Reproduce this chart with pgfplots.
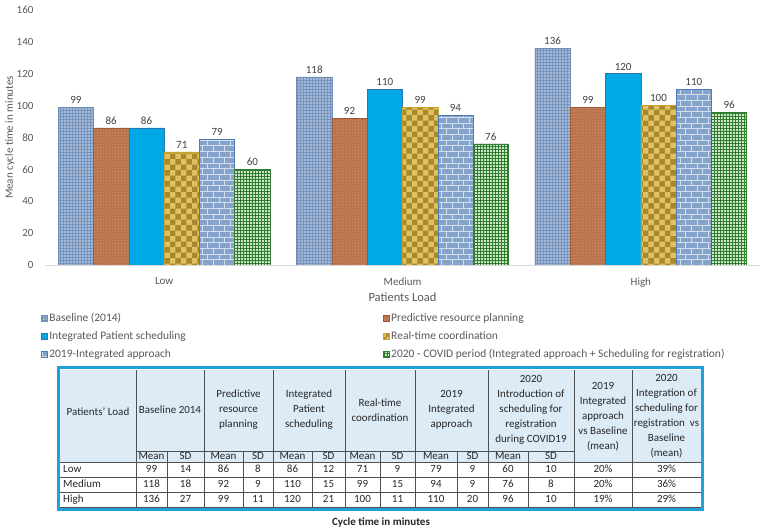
\documentclass[border=0pt]{standalone}
\usepackage{pgfplots}
\pgfplotsset{compat=1.18}
\usepackage{pgfplotstable}
\usepackage{fontspec}
\setmainfont{Carlito}
\usetikzlibrary{patterns}

\definecolor{txt}{HTML}{595959}
\definecolor{lbl}{HTML}{404040}
\definecolor{axgray}{HTML}{D9D9D9}
\definecolor{cBase}{HTML}{A3B9D7}
\definecolor{cBaseP}{HTML}{7893BC}
\definecolor{cBaseD}{HTML}{6F8DBA}
\definecolor{cPred}{HTML}{B8724B}
\definecolor{cPredP}{HTML}{D49A78}
\definecolor{cPredD}{HTML}{9A5A38}
\definecolor{cInt}{HTML}{00A9E6}
\definecolor{cIntD}{HTML}{2E75B6}
\definecolor{cRT}{HTML}{E0C060}
\definecolor{cRTP}{HTML}{A8882C}
\definecolor{cRTD}{HTML}{C9A227}
\definecolor{c19}{HTML}{86A3CC}
\definecolor{c19P}{HTML}{D3DEEE}
\definecolor{c19D}{HTML}{4F7BB5}
\definecolor{c20}{HTML}{CFE3C8}
\definecolor{c20P}{HTML}{2F7F2F}
\definecolor{c20D}{HTML}{2E7D32}
\definecolor{headfill}{HTML}{DDEBF7}
\definecolor{gridc}{HTML}{505050}
\definecolor{tblue}{HTML}{22A0DC}
\definecolor{tabtxt}{HTML}{262626}

\pgfplotstableread{
cat b p i r a c
0 99 86 86 71 79 60
1 118 92 110 99 94 76
2 136 99 120 100 110 96
}\loadtab

\begin{document}
\begin{tikzpicture}
\path[use as bounding box] (0,0) rectangle (762pt,-530pt);
\begin{axis}[
  at={(45pt,-265pt)}, anchor=south west,
  scale only axis, width=715pt, height=255pt,
  xmin=-0.5, xmax=2.5, ymin=0, ymax=160,
  ybar=0pt, bar width=35.3pt,
  axis line style={draw=none},
  tick style={draw=none},
  xtick={0,1,2}, xticklabels={Low,Medium,High},
  ytick={0,20,...,160},
  /pgf/number format/assume math mode=true,
  ticklabel style={font=\fontsize{11}{13}\selectfont, text=txt},
  xticklabel style={yshift=-5pt},
  yticklabel style={xshift=-8pt},
  xlabel={Patients Load},
  ylabel={Mean cycle time in minutes},
  every axis x label/.style={at={(axis description cs:0.5,-0.125)}, anchor=center, font=\fontsize{12.5}{14}\selectfont, text=txt},
  every axis y label/.style={at={(axis description cs:-0.049,0.5)}, anchor=center, rotate=90, font=\fontsize{11}{13}\selectfont, text=txt},
  nodes near coords,
  every node near coord/.append style={font=\fontsize{11}{13}\selectfont, text=lbl},
  legend columns=2,
  legend cell align=left,
  legend style={at={(axis description cs:-0.006,-0.18)}, anchor=north west, draw=none, fill=none,
    font=\fontsize{11.5}{13}\selectfont, text=txt, inner sep=0pt, row sep=3pt,
    nodes={text height=8.5pt, text depth=2.5pt},
    /tikz/every even column/.append style={column sep=195pt}},
  legend image code/.code={\draw[#1, line width=0.4pt] (0pt,-3pt) rectangle (6pt,3pt);},
]
\addplot[fill=cBase, draw=cBaseD, line width=0.6pt, postaction={pattern=grid, pattern color=cBaseP}] table[x=cat,y=b] {\loadtab};
\addlegendentry{Baseline (2014)}
\addplot[fill=cPred, draw=cPredD, line width=0.6pt, postaction={pattern=crosshatch dots, pattern color=cPredP}] table[x=cat,y=p] {\loadtab};
\addlegendentry{Predictive resource planning}
\addplot[fill=cInt, draw=cIntD, line width=0.6pt] table[x=cat,y=i] {\loadtab};
\addlegendentry{Integrated Patient scheduling}
\addplot[fill=cRT, draw=cRTD, line width=0.6pt, postaction={pattern=checkerboard, pattern color=cRTP}] table[x=cat,y=r] {\loadtab};
\addlegendentry{Real-time coordination}
\addplot[fill=c19, draw=c19D, line width=0.6pt, postaction={pattern=bricks, pattern color=c19P}] table[x=cat,y=a] {\loadtab};
\addlegendentry{2019-Integrated approach}
\addplot[fill=c20, draw=c20D, line width=0.6pt, postaction={pattern=grid, pattern color=c20P}] table[x=cat,y=c] {\loadtab};
\addlegendentry{2020 - COVID period (Integrated approach + Scheduling for registration)}
\draw[axgray, line width=0.8pt] (axis cs:-0.5,0) -- (axis cs:2.5,0);
\end{axis}

% ---------- table ----------
\tikzset{tt/.style={font=\fontsize{11}{15}\selectfont, align=center, inner sep=0pt, text=tabtxt},
         tc/.style={tt, text height=8pt, text depth=2.5pt},
         gl/.style={gridc, line width=0.6pt}}
\fill[headfill] (60pt,-370pt) rectangle (701pt,-462pt);
\draw[gl] (136pt,-451pt) -- (574pt,-451pt);
\foreach \yy in {462,477,492,507} \draw[gl] (60pt,-\yy pt) -- (701pt,-\yy pt);
\foreach \xx in {136,204,273,345,415,488,574,632} \draw[gl] (\xx pt,-370pt) -- (\xx pt,-507pt);
\foreach \xx in {167,243,312,380,457,528} \draw[gl] (\xx pt,-451pt) -- (\xx pt,-507pt);
\draw[tblue, line width=3pt] (58.5pt,-367.5pt) rectangle (702.5pt,-509.5pt);

\node[tt] at (98pt,-412pt) {Patients' Load};
\node[tt] at (170pt,-410pt) {Baseline 2014};
\node[tt] at (238.5pt,-410pt) {Predictive\\resource\\planning};
\node[tt] at (309pt,-410pt) {Integrated\\Patient\\scheduling};
\node[tt] at (380pt,-410.5pt) {Real-time\\coordination};
\node[tt] at (451.5pt,-410pt) {2019\\Integrated\\approach};
\node[tt] at (531pt,-410pt) {2020\\Introduction of\\scheduling for\\registration\\during COVID19};
\node[tt] at (603pt,-417pt) {2019\\Integrated\\approach\\vs Baseline\\(mean)};
\node[tt] at (666.5pt,-416.5pt) {2020\\Integration of\\scheduling for\\registration\ \ vs\\Baseline\\(mean)};

\foreach \xx in {151.5,223.5,292.5,362.5,436,508} \node[tc] at (\xx pt,-456.5pt) {Mean};
\foreach \xx in {185.5,258,328.5,397.5,472.5,551} \node[tc] at (\xx pt,-456.5pt) {SD};

\node[tc, anchor=west] at (63pt,-469.5pt) {Low};
\node[tc, anchor=west] at (63pt,-484.5pt) {Medium};
\node[tc, anchor=west] at (63pt,-499.5pt) {High};
\foreach \xx/\vv in {151.5/99,185.5/14,223.5/86,258/8,292.5/86,328.5/12,362.5/71,397.5/9,436/79,472.5/9,508/60,551/10,603/20\%,666.5/39\%}
  \node[tc] at (\xx pt,-469.5pt) {\vv};
\foreach \xx/\vv in {151.5/118,185.5/18,223.5/92,258/9,292.5/110,328.5/15,362.5/99,397.5/15,436/94,472.5/9,508/76,551/8,603/20\%,666.5/36\%}
  \node[tc] at (\xx pt,-484.5pt) {\vv};
\foreach \xx/\vv in {151.5/136,185.5/27,223.5/99,258/11,292.5/120,328.5/21,362.5/100,397.5/11,436/110,472.5/20,508/96,551/10,603/19\%,666.5/29\%}
  \node[tc] at (\xx pt,-499.5pt) {\vv};

\node[font=\bfseries\fontsize{11}{13}\selectfont, text=tabtxt] at (381pt,-522pt) {Cycle time in minutes};
\end{tikzpicture}
\end{document}
